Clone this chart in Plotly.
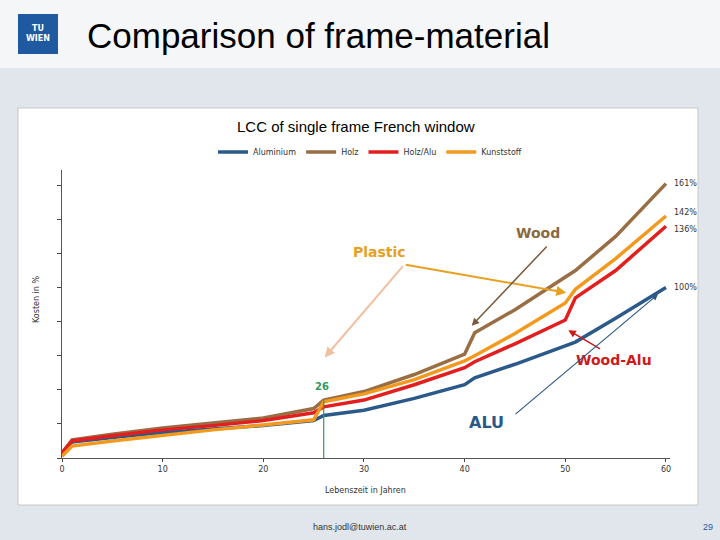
import plotly.graph_objects as go

years = [0, 1, 5, 10, 15, 20, 25, 26, 30, 35, 40, 41, 45, 50, 51, 55, 60]
aluminium = [2, 9.4, 12, 15, 17, 19, 22, 25, 28, 35, 43, 47, 55, 66, 68, 82, 100]
holz = [3, 10.6, 14, 17.6, 20.5, 23.5, 29, 34, 39, 49, 61, 73.5, 87, 106, 110, 130, 161]
holz_alu = [3, 10, 13, 16.5, 19, 22, 26.5, 30, 34, 43, 53, 56.5, 67, 81, 94, 110, 136]
kunststoff = [1, 7, 10, 13.5, 16.5, 19.4, 22.4, 33, 37.6, 46, 57, 60, 73, 91, 99, 117, 142]
end_labels = ["161%", "142%", "136%", "100%"]
end_values = [161, 142, 136, 100]

series = [("Aluminium", aluminium, "#2b5a8a"), ("Holz", holz, "#9a6e44"),
          ("Holz/Alu", holz_alu, "#e31e1e"), ("Kunststoff", kunststoff, "#f39a1e")]

# plot area in pixels
L, R, T, B = 62, 50, 170, 82
W, H = 720 - L - R, 540 - T - B
YMAX = 169


def px(x):
    return (x - L) / W


def py(y):
    return (540 - B - y) / H


def label(x, y, text, size, color, family="Liberation Sans", anchor="center", **kw):
    return dict(x=px(x), y=py(y), xref="paper", yref="paper", text=text, showarrow=False,
                xanchor=anchor, yanchor="middle", font=dict(size=size, color=color, family=family), **kw)


fig = go.Figure()
for name, vals, col in series:
    fig.add_trace(go.Scatter(x=years, y=vals, name=name, mode="lines",
                             line=dict(color=col, width=3.5)))

# green marker at year 26
fig.add_trace(go.Scatter(x=[26, 26], y=[0, 34], mode="lines", showlegend=False,
                         line=dict(color="#2e9a5e", width=1.2)))

ann = [dict(x=px(672), y=v / YMAX, xref="paper", yref="paper", text=t, showarrow=False,
            xanchor="left", yanchor="middle", yshift=(4 if t == "142%" else -3 if t == "136%" else 0),
            font=dict(size=8, color="#333")) for t, v in zip(end_labels, end_values)]
ann += [
    dict(x=31.5, y=120.6, text="<b>Plastic</b>", showarrow=False, font=dict(size=14, color="#e8a020")),
    dict(x=47.3, y=132, text="<b>Wood</b>", showarrow=False, font=dict(size=14, color="#8a6a40")),
    dict(x=54.8, y=57.6, text="<b>Wood-Alu</b>", showarrow=False, font=dict(size=14, color="#d01818")),
    dict(x=42.2, y=20.6, text="<b>ALU</b>", showarrow=False, font=dict(size=16, color="#2b5a8a")),
    dict(x=25.8, y=42, text="<b>26</b>", showarrow=False, font=dict(size=10, color="#2e9a5e")),
    dict(x=50.1, y=97, ax=34, ay=113.5, axref="x", ayref="y", text="", showarrow=True,
         arrowhead=2, arrowwidth=2, arrowcolor="#e8a020"),
    dict(x=26.1, y=59, ax=34, ay=113.5, axref="x", ayref="y", text="", showarrow=True,
         arrowhead=2, arrowwidth=2, arrowcolor="#f2c0a0"),
    dict(x=40.7, y=77.6, ax=48.3, ay=125, axref="x", ayref="y", text="", showarrow=True,
         arrowhead=2, arrowwidth=1.5, arrowcolor="#7a5a3a"),
    dict(x=50.3, y=75, ax=53.6, ay=63.5, axref="x", ayref="y", text="", showarrow=True,
         arrowhead=2, arrowwidth=1.5, arrowcolor="#d01818"),
    dict(x=59.2, y=96, ax=44.9, ay=25, axref="x", ayref="y", text="", showarrow=True,
         arrowhead=2, arrowwidth=1.2, arrowcolor="#2b5a8a"),
    label(85, 35, "Comparison of frame-material", 35, "#000", anchor="left"),
    label(356, 126, "LCC of single frame French window", 15, "#000"),
    label(36, 300, "Kosten in %", 8, "#333", "DejaVu Sans", textangle=-90),
    label(365, 490, "Lebenszeit in Jahren", 8, "#333", "DejaVu Sans"),
    label(360, 527, "hans.jodl@tuwien.ac.at", 9, "#333"),
    label(708, 527, "29", 9, "#1f5aa0"),
    label(38, 34, "<b>TU</b><br><b>WIEN</b>", 8, "white", "DejaVu Sans"),
]

shapes = [
    dict(type="rect", xref="paper", yref="paper", x0=px(0), x1=px(720), y0=py(68), y1=py(0),
         fillcolor="#f4f6f8", line_width=0, layer="below"),
    dict(type="rect", xref="paper", yref="paper", x0=px(18), x1=px(698),
         y0=py(505), y1=py(108), fillcolor="white",
         line=dict(color="#c8c8c8", width=1), layer="below"),
    dict(type="rect", xref="paper", yref="paper", x0=px(18), x1=px(58),
         y0=py(54), y1=py(14), fillcolor="#1f5aa0", line_width=0, layer="below"),
]

fig.update_layout(
    width=720, height=540, paper_bgcolor="#e0e6ec", plot_bgcolor="white",
    margin=dict(l=L, r=R, t=T, b=B, autoexpand=False),
    font=dict(family="DejaVu Sans"),
    annotations=ann, shapes=shapes,
    legend=dict(orientation="h", x=px(370), xanchor="center", y=py(152),
                yanchor="middle", font=dict(size=8, color="#333"), bgcolor="rgba(0,0,0,0)"),
    xaxis=dict(range=[0, 60.4], tickvals=[0, 10, 20, 30, 40, 50, 60], showgrid=False,
               showline=True, linecolor="#555", ticks="outside", ticklen=3,
               tickfont=dict(size=8, color="#333"), zeroline=False),
    yaxis=dict(range=[0, YMAX], dtick=20, showgrid=False, showline=True, linecolor="#555",
               ticks="outside", ticklen=4, showticklabels=False, zeroline=False),
)

fig.write_html("out.html", config={"displayModeBar": False},
               post_script="document.body.style.margin='0';")
